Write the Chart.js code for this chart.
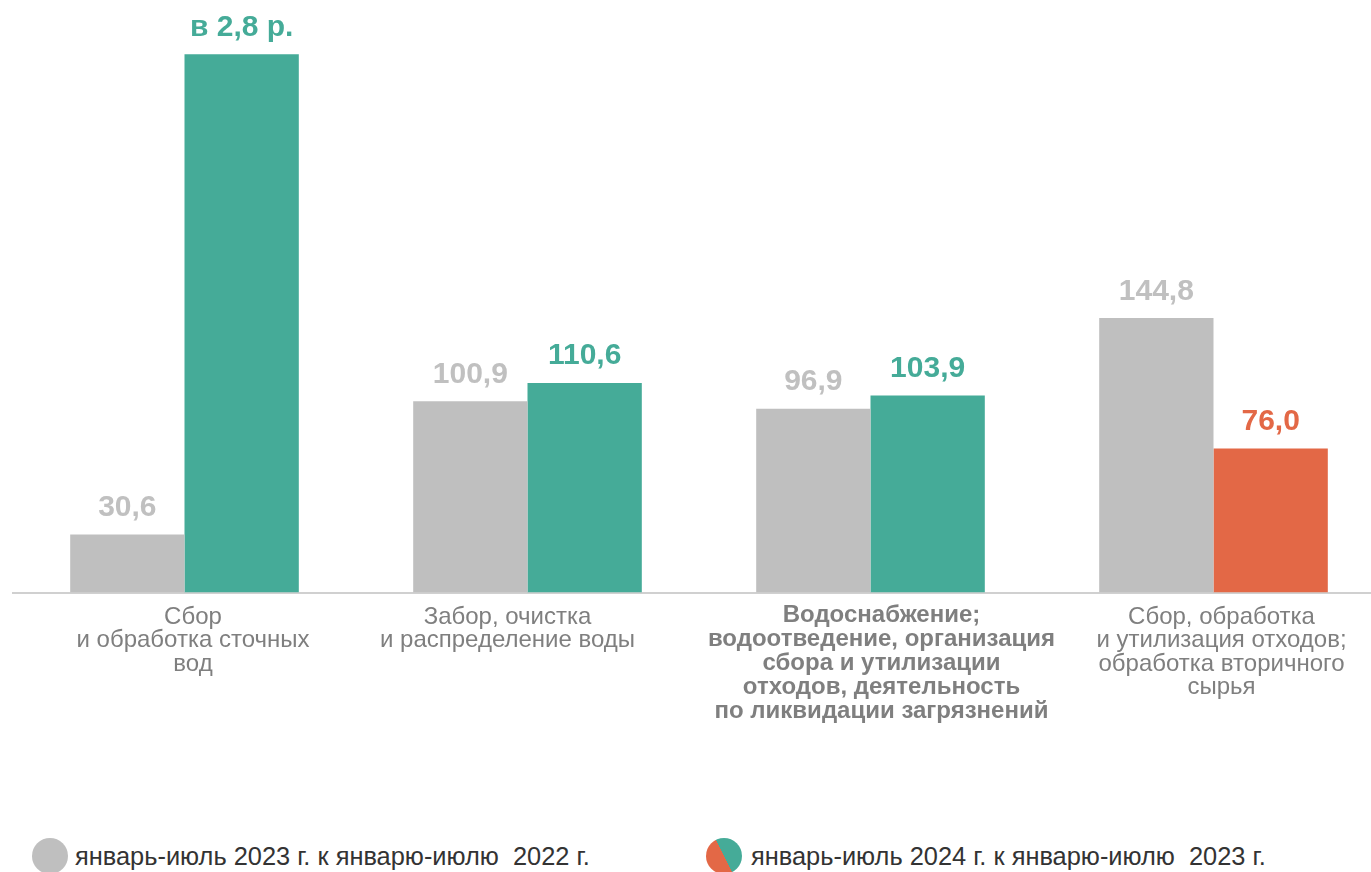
<!DOCTYPE html>
<html>
<head>
<meta charset="utf-8">
<script src="https://cdn.jsdelivr.net/npm/chart.js@4/dist/chart.umd.min.js"></script>
<style>
html,body{margin:0;padding:0;width:1371px;height:872px;overflow:hidden;background:#fff;}
#wrap{position:absolute;left:0;top:0;width:1400px;height:800px;}
.leg{position:absolute;top:838px;height:36px;display:flex;align-items:center;font-family:"Liberation Sans",Arial,sans-serif;font-size:25.4px;color:#333;white-space:pre;}
.dot{width:36px;height:36px;border-radius:50%;margin-right:7px;flex:none;}
</style>
</head>
<body>
<div id="wrap"><canvas id="c" width="1400" height="800"></canvas></div>
<div class="leg" style="left:32px"><div class="dot" style="background:#bfbfbf"></div><span>январь-июль 2023 г. к январю-июлю  2022 г.</span></div>
<div class="leg" style="left:706px"><div class="dot" style="margin-right:9px;background:linear-gradient(63deg,#e36846 50%,#45ab98 50%)"></div><span>январь-июль 2024 г. к январю-июлю  2023 г.</span></div>
<script>
const categories = [
  ["Сбор", "и обработка сточных", "вод"],
  ["Забор, очистка", "и распределение воды"],
  ["Водоснабжение;", "водоотведение, организация", "сбора и утилизации", "отходов, деятельность", "по ликвидации загрязнений"],
  ["Сбор, обработка", "и утилизация отходов;", "обработка вторичного", "сырья"]
];
const series2023 = [30.6, 100.9, 96.9, 144.8];
const series2024 = [284, 110.6, 103.9, 76.0];
const labels2023 = ["30,6", "100,9", "96,9", "144,8"];
const labels2024 = ["в 2,8 р.", "110,6", "103,9", "76,0"];
const seriesNames = ["январь-июль 2023 г. к январю-июлю 2022 г.", "январь-июль 2024 г. к январю-июлю 2023 г."];

const GRAY = "#bfbfbf", TEAL = "#45ab98", ORANGE = "#e36846";
const colors2024 = series2024.map(v => v < 100 ? ORANGE : TEAL);
const labelColors = [series2023.map(() => "#c0c0c0"), colors2024];
const labelTexts = [labels2023, labels2024];
// styling: horizontal nudge of each category caption, bold caption index
const captionShift = [8.5, -20, 11, 8];
const boldCaption = 2;

const valueLabels = {
  id: "valueLabels",
  afterDatasetsDraw(chart) {
    const ctx = chart.ctx;
    ctx.save();
    ctx.font = "bold 30px 'Liberation Sans', Arial, sans-serif";
    ctx.textAlign = "center";
    ctx.textBaseline = "alphabetic";
    chart.data.datasets.forEach((ds, di) => {
      chart.getDatasetMeta(di).data.forEach((bar, i) => {
        ctx.fillStyle = labelColors[di][i];
        ctx.fillText(labelTexts[di][i], bar.x, bar.y - 18.5);
      });
    });
    ctx.restore();
  }
};

const categoryCaptions = {
  id: "categoryCaptions",
  afterDraw(chart) {
    const ctx = chart.ctx, xs = chart.scales.x;
    ctx.save();
    ctx.textAlign = "center";
    ctx.textBaseline = "middle";
    ctx.fillStyle = "#7f7f7f";
    chart.data.labels.forEach((lines, i) => {
      const bold = i === boldCaption;
      ctx.font = (bold ? "bold " : "") + "24px 'Liberation Sans', Arial, sans-serif";
      const x = xs.getPixelForValue(i) + captionShift[i];
      const y0 = chart.chartArea.bottom + (bold ? 22.5 : 24.5);
      const lh = bold ? 24 : 23.5;
      lines.forEach((t, k) => ctx.fillText(t, x, y0 + k * lh));
    });
    ctx.restore();
  }
};

new Chart(document.getElementById("c"), {
  type: "bar",
  data: {
    labels: categories,
    datasets: [
      { label: seriesNames[0], data: series2023, backgroundColor: GRAY },
      { label: seriesNames[1], data: series2024, backgroundColor: colors2024 }
    ]
  },
  options: {
    responsive: false,
    animation: false,
    events: [],
    layout: { padding: { left: 13, right: 15, top: 24, bottom: 7.5 } },
    categoryPercentage: 0.6665,
    barPercentage: 1.0,
    plugins: { legend: { display: false }, tooltip: { enabled: false } },
    scales: {
      y: { display: false, min: 0, max: 300 },
      x: {
        afterFit: (s) => { s.height = 200; },
        grid: { display: false, drawTicks: false },
        border: { display: true, color: "#d0d0d0", width: 2 },
        ticks: { display: false }
      }
    }
  },
  plugins: [valueLabels, categoryCaptions]
});
</script>
</body>
</html>
